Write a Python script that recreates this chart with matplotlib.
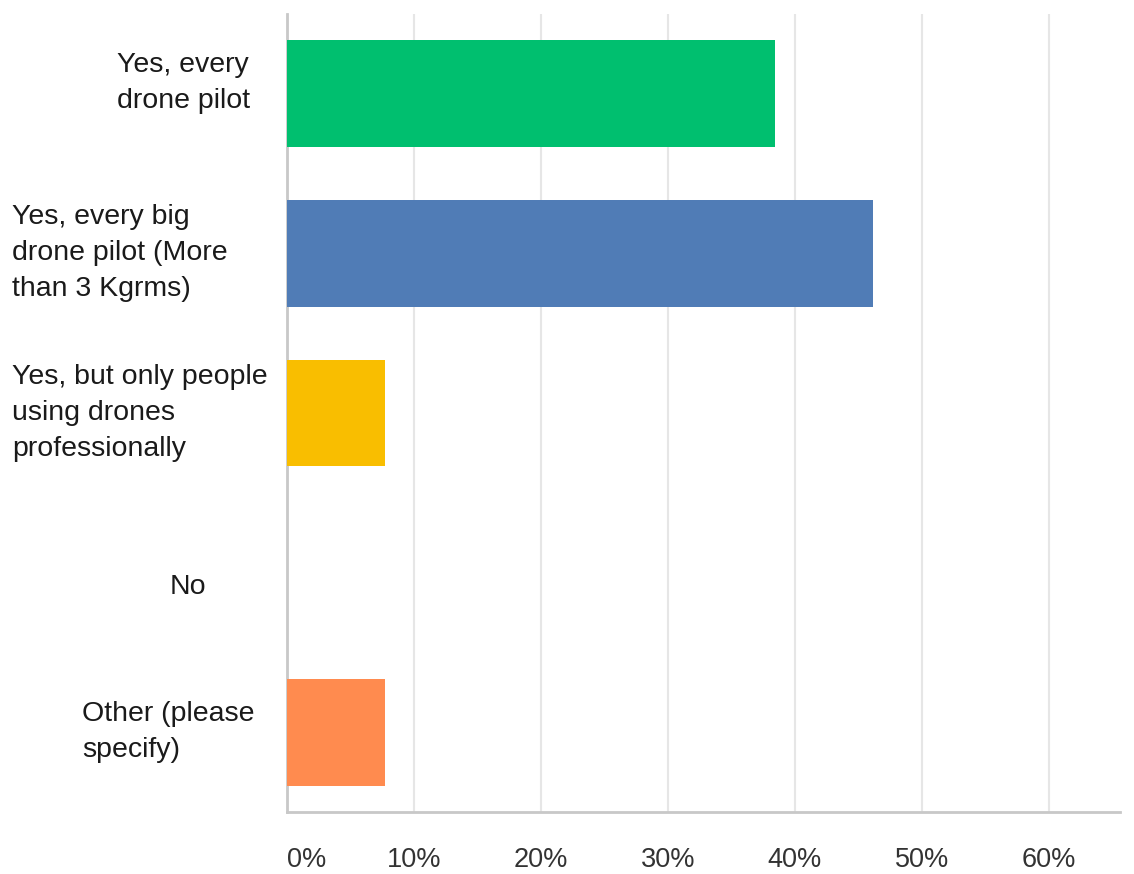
import matplotlib
matplotlib.use("Agg")
import matplotlib.pyplot as plt
from matplotlib.transforms import blended_transform_factory

categories = [
    "Yes, every\ndrone pilot",
    "Yes, every big\ndrone pilot (More\nthan 3 Kgrms)",
    "Yes, but only people\nusing drones\nprofessionally",
    "No",
    "Other (please\nspecify)",
]
values = [38.46, 46.15, 7.69, 0.0, 7.69]
colors = ["#00bf6f", "#507cb6", "#f9be00", "#6bc8cd", "#ff8b4f"]
xticks = [0, 10, 20, 30, 40, 50, 60]
xticklabels = ["0%", "10%", "20%", "30%", "40%", "50%", "60%"]

# layout: left x of each label (figure pixels) and vertical offset (data units)
label_x_px = [117, 12, 12, 170, 82]
label_dy = [-0.07, 0.0, 0.0, 0.09, 0.0]

W, H = 1134, 874
fig = plt.figure(figsize=(W / 100, H / 100), dpi=100)
ax = fig.add_axes([287 / W, 1 - 812 / H, (1120 - 287) / W, (812 - 14) / H])

ypos = list(range(len(categories)))
ax.barh(ypos, values, height=0.67, color=colors, zorder=3)
ax.set_ylim(len(categories) - 0.5, -0.5)
ax.set_xlim(0, 65.6)

ax.set_xticks(xticks)
ax.set_xticklabels(xticklabels, fontsize=19.5, color="#333333", family="Liberation Sans")
ax.get_xticklabels()[0].set_ha("left")
ax.tick_params(axis="x", length=0, pad=25)
ax.set_yticks([])
ax.grid(axis="x", color="#e6e6e6", linewidth=1.5, zorder=0)

for s in ["top", "right"]:
    ax.spines[s].set_visible(False)
for s in ["left", "bottom"]:
    ax.spines[s].set_color("#c8c8c8")
    ax.spines[s].set_linewidth(2)

trans = blended_transform_factory(fig.transFigure, ax.transData)
for i, lab in enumerate(categories):
    fig.text(label_x_px[i] / W, ypos[i] + label_dy[i], lab, transform=trans,
             ha="left", va="center", fontsize=20.5, color="#1a1a1a",
             family="Liberation Sans", linespacing=1.5)

fig.savefig("out.png", dpi=100, facecolor="white")
